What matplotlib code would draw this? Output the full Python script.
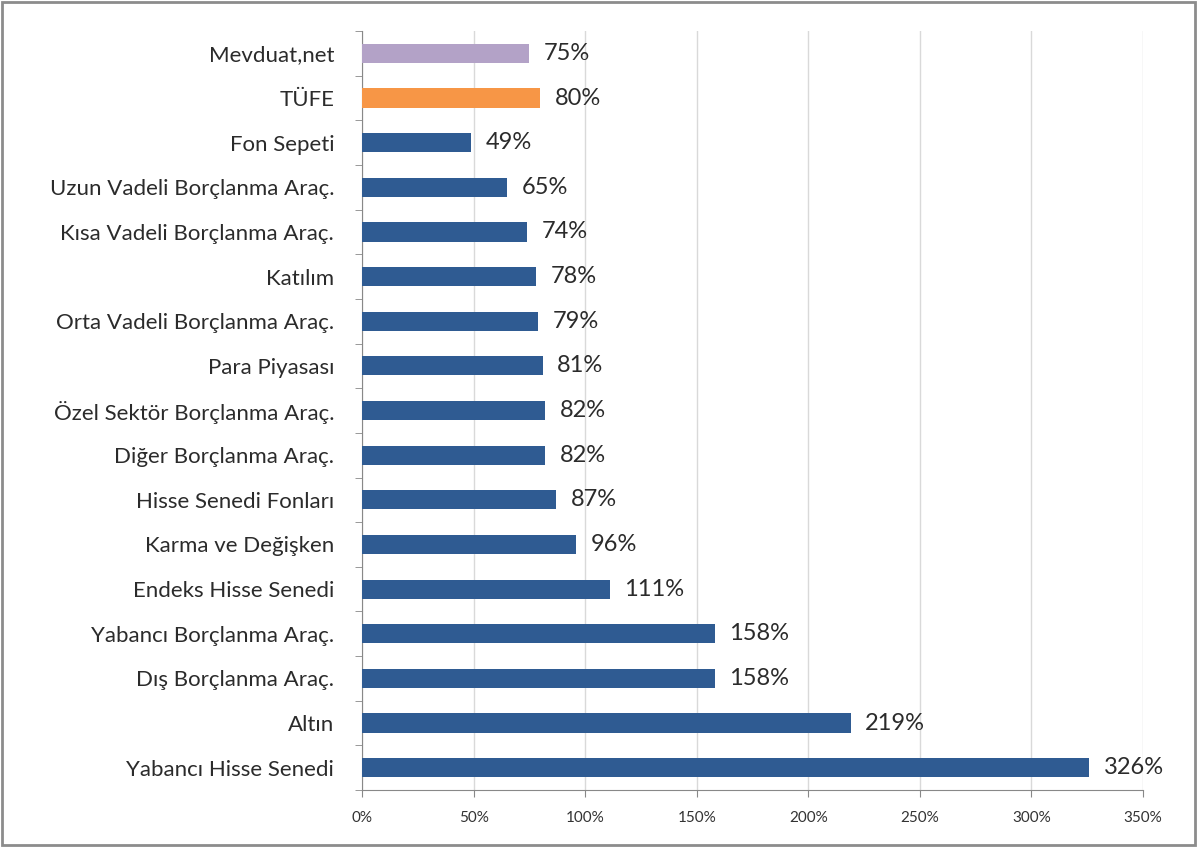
import matplotlib.pyplot as plt
import numpy as np
from matplotlib.patches import Rectangle
from matplotlib.ticker import FixedLocator

categories = [
    "Mevduat,net",
    "TÜFE",
    "Fon Sepeti",
    "Uzun Vadeli Borçlanma Araç.",
    "Kısa Vadeli Borçlanma Araç.",
    "Katılım",
    "Orta Vadeli Borçlanma Araç.",
    "Para Piyasası",
    "Özel Sektör Borçlanma Araç.",
    "Diğer Borçlanma Araç.",
    "Hisse Senedi Fonları",
    "Karma ve Değişken",
    "Endeks Hisse Senedi",
    "Yabancı Borçlanma Araç.",
    "Dış Borçlanma Araç.",
    "Altın",
    "Yabancı Hisse Senedi",
]
values = [75, 80, 49, 65, 74, 78, 79, 81, 82, 82, 87, 96, 111, 158, 158, 219, 326]
xticks = [0, 50, 100, 150, 200, 250, 300, 350]

blue = "#2f5b92"
colors = ["#b3a2c7", "#f79646"] + [blue] * (len(values) - 2)

plt.rcParams["font.family"] = ["Lato", "DejaVu Sans"]

fig = plt.figure(figsize=(11.97, 8.47), dpi=100)
ax = fig.add_axes([0.3024, 0.0673, 0.6525, 0.896])

y = np.arange(len(values))
ax.barh(y, values, height=0.43, color=colors, zorder=3)
ax.set_ylim(len(values) - 0.5, -0.5)
ax.set_xlim(0, 350)

for yi, v in zip(y, values):
    ax.text(v + 6.5, yi, f"{v}%", va="center", ha="left", fontsize=17, color="#2b2b2b")

ax.set_yticks(y)
ax.set_yticklabels(categories, fontsize=16, color="#2b2b2b")
ax.yaxis.set_minor_locator(FixedLocator(np.arange(-0.5, len(values), 1)))
ax.tick_params(axis="y", which="major", length=0, pad=20)
ax.tick_params(axis="y", which="minor", length=5, color="#888888", direction="out")

ax.set_xticks(xticks)
ax.set_xticklabels([f"{t}%" for t in xticks], fontsize=11, color="#333333")
ax.tick_params(axis="x", length=5, color="#888888", pad=10)
ax.grid(axis="x", color="#d9d9d9", linewidth=1, zorder=0)

for side in ["top", "right"]:
    ax.spines[side].set_visible(False)
for side in ["left", "bottom"]:
    ax.spines[side].set_color("#888888")

fig.patches.append(Rectangle((0.002, 0.002), 0.996, 0.996, transform=fig.transFigure,
                             fill=False, edgecolor="#8c8c8c", linewidth=2))

fig.savefig("out.png", dpi=100)
